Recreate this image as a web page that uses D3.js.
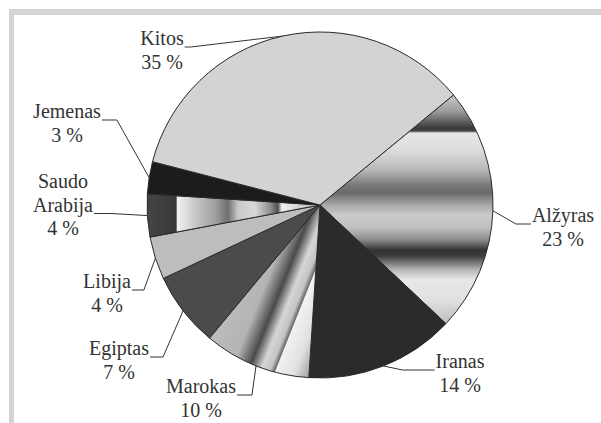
<!DOCTYPE html>
<html>
<head>
<meta charset="utf-8">
<script src="https://cdn.jsdelivr.net/npm/d3@7"></script>
<style>
  body { margin: 0; background: #fff; }
  svg { display: block; }
</style>
</head>
<body>
<svg class="chart" width="601" height="423"></svg>
<script>
// data
const countries = ["Alžyras", "Iranas", "Marokas", "Egiptas", "Libija", "Saudo Arabija", "Jemenas", "Kitos"]
const shares = [23, 14, 10, 7, 4, 4, 3, 35]

// layout of labels (first baseline centre, side of leader, elbow, line the leader hangs on)
const labelPos = [[563, 222], [460, 368], [201, 393], [119, 355], [107, 288], [63, 188], [67, 118], [162, 45]]
const labelSide = ["left", "left", "right", "right", "right", "right", "right", "right"]
const labelElbow = [15, 32, 15, 13, 12, 17, 15, 6]
const labelLine = [0, 0, 0, 0, 0, 1, 0, 0]

const cx = 320, cy = 205, r = 173
const startDeg = 50.5
const serif = '"Liberation Serif", monospace'
const lineGap = 23.5

const svg = d3.select('.chart')

// frame
svg.append('rect').attr('x', 9).attr('y', 9).attr('width', 601).attr('height', 6).attr('fill', '#d3d4d6')
svg.append('rect').attr('x', 9).attr('y', 9).attr('width', 5).attr('height', 423).attr('fill', '#d3d4d6')

const pie = d3.pie().sort(null)
    .startAngle(startDeg * Math.PI / 180)
    .endAngle(startDeg * Math.PI / 180 + 2 * Math.PI)
const arcs = pie(shares)
const arc = d3.arc().innerRadius(0).outerRadius(r)
// point on a circle around the pie centre (local coords)
const pt = (a, rad) => [rad * Math.sin(a), -rad * Math.cos(a)]

const defs = svg.append('defs')
function grad(id, p1, p2, stops) {
    const g = defs.append('linearGradient').attr('id', id)
        .attr('gradientUnits', 'userSpaceOnUse')
        .attr('x1', p1[0]).attr('y1', p1[1]).attr('x2', p2[0]).attr('y2', p2[1])
    g.selectAll('stop').data(stops).join('stop')
        .attr('offset', d => d[0]).attr('stop-color', d => d[1])
}

// Alžyras: horizontal metal bands
grad('g-alz', [0, -r], [0, r], [
    [0.19, '#c4c4c4'], [0.23, '#9a9a9a'], [0.277, '#3c3c3c'], [0.286, '#404040'], [0.292, '#e6e6e6'],
    [0.341, '#dedede'], [0.399, '#b8b8b8'], [0.442, '#7a7a7a'], [0.465, '#6a6a6a'], [0.5, '#a8a8a8'],
    [0.529, '#cbcbcb'], [0.566, '#c0c0c0'], [0.601, '#8a8a8a'], [0.63, '#333333'], [0.647, '#3c3c3c'],
    [0.688, '#b8b8b8'], [0.717, '#e8e8e8'], [0.775, '#e0e0e0'], [0.861, '#b4b4b4']
])
// Marokas: stripes along the slice
grad('g-mar', pt(arcs[2].endAngle, r), pt(arcs[2].startAngle, r), [
    [0, '#bdbdbd'], [0.3, '#b4b4b4'], [0.45, '#4a4a4a'], [0.56, '#d6d6d6'], [0.64, '#c4c4c4'],
    [0.68, '#6a6a6a'], [0.69, '#f2f2f2'], [0.86, '#e0e0e0'], [1, '#a0a0a0']
])
// Saudo Arabija: dark rim with metal bar
grad('g-sau', [-r, 0], [0, 0], [
    [0, '#454545'], [0.168, '#383838'], [0.176, '#f2f2f2'], [0.277, '#c8c8c8'], [0.393, '#a0a0a0'],
    [0.468, '#707070'], [0.526, '#c8c8c8'], [0.624, '#d8d8d8'], [0.711, '#909090'], [0.757, '#505050'],
    [0.78, '#f4f4f4'], [0.884, '#d0d0d0'], [1, '#c0c0c0']
])

const fills = ['url(#g-alz)', '#2b2b2b', 'url(#g-mar)', '#4b4b4b', '#bdbdbd', 'url(#g-sau)', '#1c1c1c', '#d2d3d5']

svg.append('g')
    .attr('transform', `translate(${cx},${cy})`)
    .selectAll('path')
    .data(arcs)
    .join('path')
    .attr('d', arc)
    .attr('fill', (d, i) => fills[i])
    .attr('stroke', '#2a2a2a')
    .attr('stroke-width', 1)

const labelLines = i => countries[i].split(' ').concat([shares[i] + ' %'])

// label rows straight on the svg
const rows = []
arcs.forEach((d, i) => labelLines(i).forEach((t, j) => rows.push({ i, j, t })))

svg.selectAll('text')
    .data(rows)
    .join('text')
    .attr('x', d => labelPos[d.i][0])
    .attr('y', d => labelPos[d.i][1] + d.j * lineGap)
    .attr('font-size', 20)
    .attr('font-family', serif)
    .attr('fill', '#333')
    .attr('text-anchor', 'middle')
    .text(d => d.t)

// leader lines
const textNodes = svg.selectAll('text').nodes()
arcs.forEach((d, i) => {
    const k = rows.findIndex(o => o.i === i && o.j === labelLine[i])
    const w = textNodes[k].getComputedTextLength()
    const y = labelPos[i][1] + labelLine[i] * lineGap + 2
    const x0 = labelSide[i] === 'right' ? labelPos[i][0] + w / 2 + 1 : labelPos[i][0] - w / 2 - 1
    const x1 = labelSide[i] === 'right' ? x0 + labelElbow[i] : x0 - labelElbow[i]
    const a = pt((d.startAngle + d.endAngle) / 2, r)
    svg.append('polyline')
        .attr('points', [[x0, y], [x1, y], [cx + a[0], cy + a[1]]].map(p => p.join(',')).join(' '))
        .attr('fill', 'none')
        .attr('stroke', '#333')
        .attr('stroke-width', 1)
})
</script>
</body>
</html>
